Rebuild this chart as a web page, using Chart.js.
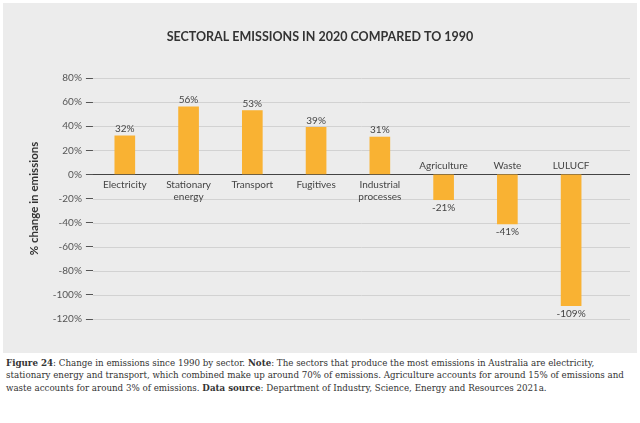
<!DOCTYPE html>
<html><head><meta charset="utf-8">
<script src="https://cdn.jsdelivr.net/npm/chart.js@4/dist/chart.umd.min.js"></script>
<style>
body{margin:0;background:#fff;width:640px;height:423px;overflow:hidden}
#panel{position:absolute;left:3px;top:3px;width:634px;height:350px;background:#ececec}
#cap{position:absolute;left:6px;top:357px;width:630px;font-family:'DejaVu Serif';font-size:8.7px;line-height:12.3px;color:#333}
#cap b{font-weight:bold}
</style></head><body>
<div id="panel"><canvas id="c" width="634" height="350"></canvas></div>
<div id="cap"><b>Figure 24</b>: Change in emissions since 1990 by sector. <b>Note</b>: The sectors that produce the most emissions in Australia are electricity, stationary energy and transport, which combined make up around 70% of emissions. Agriculture accounts for around 15% of emissions and waste accounts for around 3% of emissions. <b>Data source</b>: Department of Industry, Science, Energy and Resources 2021a.</div>
<script>
const categories=[["Electricity"],["Stationary","energy"],["Transport"],["Fugitives"],["Industrial","processes"],["Agriculture"],["Waste"],["LULUCF"]];
const values=[32,56,53,39,31,-21,-41,-109];
const yTicks=[80,60,40,20,0,-20,-40,-60,-80,-100,-120];
const deco={id:'deco',
beforeDatasetsDraw(ch){const c=ch.ctx,y=ch.scales.y,a=ch.chartArea;c.save();
 yTicks.forEach(v=>{const p=Math.round(y.getPixelForValue(v))+0.5;c.strokeStyle=v===0?'#444':'#d2d2d2';c.lineWidth=v===0?1.2:1;c.beginPath();c.moveTo(a.left,p);c.lineTo(627,p);c.stroke();});
 c.restore();},
afterDatasetsDraw(ch){const c=ch.ctx,x=ch.scales.x,y=ch.scales.y;c.save();
 c.font='bold 12.5px Lato';c.fillStyle='#333';c.textAlign='center';c.fillText('SECTORAL EMISSIONS IN 2020 COMPARED TO 1990',317,38);
 c.font='10px Lato';c.fillStyle='#444';
 const z=y.getPixelForValue(0);
 values.forEach((v,i)=>{const px=x.getPixelForValue(i);const lab=categories[i];
  if(v>=0){c.textBaseline='bottom';c.fillText(v+'%',px,y.getPixelForValue(v)-2);
   c.textBaseline='top';lab.forEach((l,k)=>c.fillText(l,px,z+5+k*12));}
  else{c.textBaseline='top';c.fillText(v+'%',px,y.getPixelForValue(v)+3);
   c.textBaseline='bottom';lab.forEach((l,k)=>c.fillText(l,px,z-4-(lab.length-1-k)*12));}
 });
 c.restore();}};
new Chart(document.getElementById('c'),{type:'bar',
data:{labels:categories.map(l=>l.join(' ')),datasets:[{data:values,backgroundColor:'#f9b233',barThickness:20}]},
options:{responsive:false,animation:false,
layout:{padding:{top:75,bottom:26,right:34,left:20}},
plugins:{legend:{display:false},tooltip:{enabled:false}},
scales:{
x:{ticks:{display:false},grid:{display:false},border:{display:false}},
y:{min:-120,max:80,afterBuildTicks(s){s.ticks=yTicks.map(v=>({value:v}));},
 ticks:{callback:v=>v+'%',color:'#555',font:{family:'Lato',size:10},padding:4},
 grid:{drawOnChartArea:false,tickLength:7,color:'#555'},border:{display:false},
 title:{display:true,text:'% change in emissions',color:'#333',font:{family:'Lato',size:11.5,weight:'bold'},padding:{bottom:8}}}}},
plugins:[deco]});
</script></body></html>
